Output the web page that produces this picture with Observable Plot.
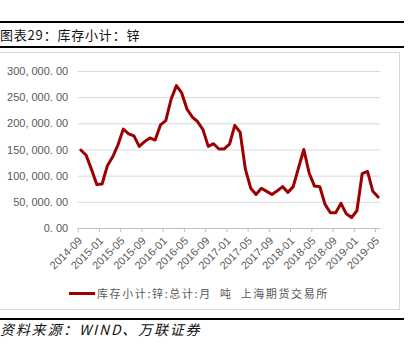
<!DOCTYPE html>
<html>
<head>
<meta charset="utf-8">
<script src="https://cdn.jsdelivr.net/npm/d3@7"></script>
<script src="https://cdn.jsdelivr.net/npm/@observablehq/plot@0.6"></script>
<style>
  html, body { margin: 0; padding: 0; background: #fff; }
  #page { position: relative; width: 420px; height: 352px; overflow: hidden; background: #fff;
          font-family: "Noto Sans CJK SC", "Noto Sans", sans-serif; }
  .rule { position: absolute; left: 0; width: 404px; height: 2px; background: #000; }
  #title { position: absolute; left: 0; top: 27px; font-size: 13px; line-height: 15px; color: #111; letter-spacing: 0.8px; }
  #frame { position: absolute; left: -1px; top: 52px; width: 399px; height: 256px; border: 1px solid #d9d9d9; }
  #chart { position: absolute; left: 0; top: 52px; }
  #legend { position: absolute; left: 69px; top: 285px; height: 16px; display: flex; align-items: center;
            font-size: 11px; color: #595959; letter-spacing: 1.6px; white-space: pre; }
  #legend .sw { width: 26px; height: 3px; background: #9c0000; margin-right: 2px; }
  #caption { position: absolute; left: 0; top: 321px; font-size: 14px; line-height: 16px; font-style: italic;
             color: #111; letter-spacing: 1.8px; }
</style>
</head>
<body>
<div id="page">
  <div class="rule" style="top:21px"></div>
  <div id="title">图表29：库存小计：锌</div>
  <div class="rule" style="top:46px"></div>
  <div id="frame"></div>
  <div id="chart"></div>
  <div id="legend"><span class="sw"></span><span id="legendText"></span></div>
  <div class="rule" style="top:318px"></div>
  <div id="caption">资料来源：WIND、万联证券</div>
</div>
<script>
// Months (category axis)
const months = [
  "2014-09","2014-10","2014-11","2014-12",
  "2015-01","2015-02","2015-03","2015-04","2015-05","2015-06","2015-07","2015-08","2015-09","2015-10","2015-11","2015-12",
  "2016-01","2016-02","2016-03","2016-04","2016-05","2016-06","2016-07","2016-08","2016-09","2016-10","2016-11","2016-12",
  "2017-01","2017-02","2017-03","2017-04","2017-05","2017-06","2017-07","2017-08","2017-09","2017-10","2017-11","2017-12",
  "2018-01","2018-02","2018-03","2018-04","2018-05","2018-06","2018-07","2018-08","2018-09","2018-10","2018-11","2018-12",
  "2019-01","2019-02","2019-03","2019-04","2019-05"
];
// 库存小计:锌:总计 (吨)
const inventory = [
  150000,140000,113000,84000,
  85000,120000,137000,160000,190000,181000,177000,157000,166000,173000,169000,198000,
  206000,247000,273000,259000,228000,213000,204000,189000,157000,162000,152000,152000,
  161000,197000,184000,113000,77000,65000,77000,71000,65000,72000,80000,69000,
  80000,116000,151000,106000,81000,80000,46000,30000,30000,48000,28000,21000,
  34000,105000,109000,71000,60000
];
const yTicks = [0, 50000, 100000, 150000, 200000, 250000, 300000];
const xTickLabels = ["2014-09","2015-01","2015-05","2015-09","2016-01","2016-05","2016-09","2017-01",
                     "2017-05","2017-09","2018-01","2018-05","2018-09","2019-01","2019-05"];
const seriesName = "库存小计:锌:总计:月  吨  上海期货交易所";

const lineColor = "#9c0000";
const data = months.map((m, i) => ({i, month: m, value: inventory[i]}));
const labelPos = xTickLabels.map(l => months.indexOf(l));
const tickPos = labelPos.map(p => p - 0.5);
const fmt = v => d3.format(",.2f")(v).replace(/,/g, ", ").replace(".", ". ");

document.getElementById("legendText").textContent = seriesName;

const chart = Plot.plot({
  width: 400,
  height: 226,
  marginLeft: 77.7,
  marginRight: 19.7,
  marginTop: 19,
  marginBottom: 50,
  style: {background: "transparent", fontFamily: "'Liberation Sans', Arial, sans-serif", overflow: "visible"},
  x: {type: "linear", domain: [-0.5, months.length - 0.5], axis: null, label: null},
  y: {domain: [0, 300000], axis: null, label: null},
  marks: [
    Plot.ruleY(yTicks.filter(d => d > 0), {stroke: "#d9d9d9", strokeWidth: 1}),
    Plot.ruleY([0], {stroke: "#bfbfbf", strokeWidth: 1}),
    Plot.axisX(tickPos, {tickSize: 4, tickFormat: () => "", label: null, stroke: "#bfbfbf", strokeOpacity: 1}),
    Plot.text(yTicks, {y: d => d, text: fmt, frameAnchor: "left", textAnchor: "end", dx: -10,
                       fill: "#595959", fontSize: 11}),
    Plot.text(xTickLabels, {x: (d, k) => labelPos[k], text: d => d, frameAnchor: "bottom",
                            rotate: -45, textAnchor: "end", dx: 2, dy: 13, fill: "#595959", fontSize: 11}),
    Plot.line(data, {x: "i", y: "value", stroke: lineColor, strokeWidth: 3})
  ]
});
document.getElementById("chart").appendChild(chart);
</script>
</body>
</html>
